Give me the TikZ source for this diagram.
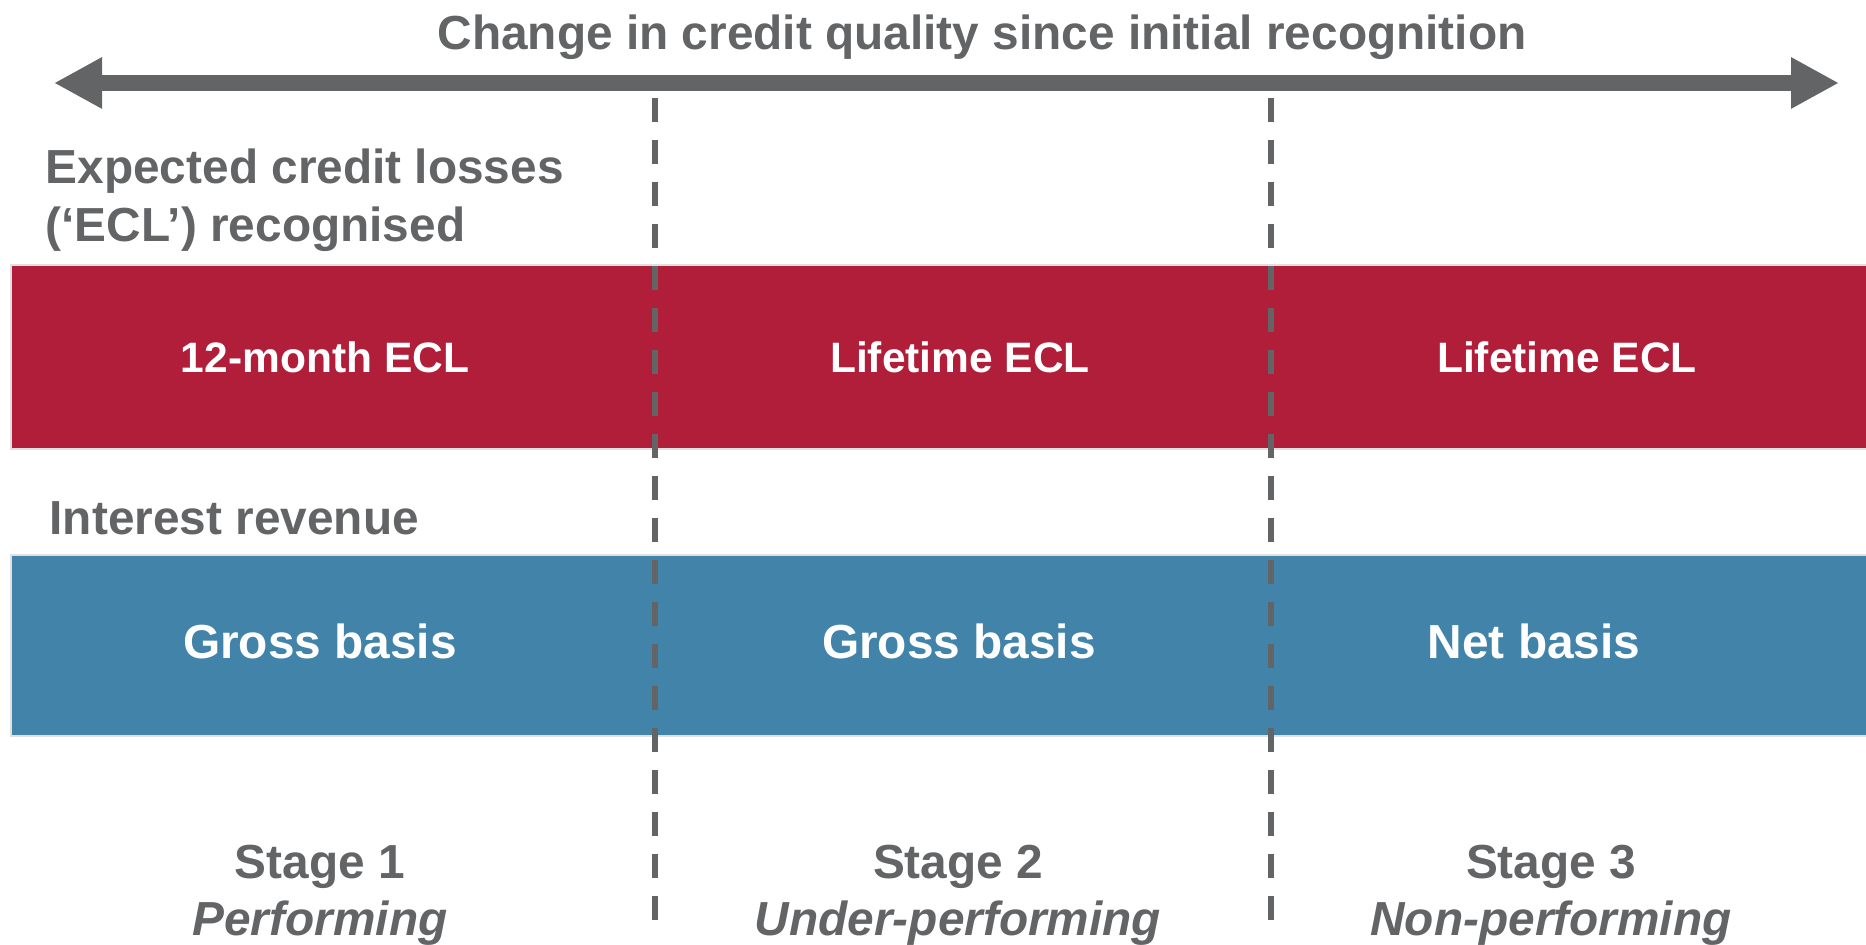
\documentclass[tikz,border=0pt]{standalone}
\usepackage{fontspec}
\setmainfont{Liberation Sans}
\usetikzlibrary{arrows.meta}
\definecolor{eclred}{RGB}{176,30,58}
\definecolor{revblue}{RGB}{66,132,169}
\definecolor{darkgrey}{RGB}{99,100,102}
\begin{document}
\begin{tikzpicture}[band/.style={fill=#1,draw=black!12,line width=0.4pt},grey text/.style={text=darkgrey,font=\fontsize{13.6}{16.5}\selectfont\bfseries,inner sep=0pt},white text/.style={text=white,font=\fontsize{13.6}{16.5}\selectfont\bfseries,inner sep=0pt,anchor=base},stage line/.style={darkgrey,line width=1.5pt,dash pattern=on 0.24cm off 0.18cm}]
\useasboundingbox (0,0) rectangle (18.66,9.45);
\draw [band=eclred] (0.11,4.96) rectangle (18.8,6.80);
\draw [band=revblue] (0.11,2.09) rectangle (18.8,3.90);
\coordinate (worse) at (0.54,8.62);
\coordinate (better) at (18.39,8.62);
\draw [darkgrey, line width=4.5pt, {Triangle[length=0.48cm,width=0.48cm]}-{Triangle[length=0.48cm,width=0.48cm]}] (worse) -- (better);
\begin{scope}[every node/.style={grey text}]
\node [anchor=base] (title) at (9.82,8.95) {Change in credit quality since initial recognition};
\node [anchor=base west, align=left] (ecl) at (0.45,7.03) {Expected credit losses\\(‘ECL’) recognised};
\node [anchor=base west] (rev) at (0.49,4.10) {Interest revenue};
\node [anchor=base, align=center] (s1) at (3.20,0.09) {Stage 1\\\textit{Performing}};
\node [anchor=base, align=center] (s2) at (9.58,0.09) {Stage 2\\\textit{Under-performing}};
\node [anchor=base, align=center] (s3) at (15.51,0.09) {Stage 3\\\textit{Non-performing}};
\end{scope}
\begin{scope}[every node/.style={white text}]
\node [font=\fontsize{12.1}{14}\selectfont\bfseries] (e1) at (3.25,5.72) {12-month ECL};
\node [font=\fontsize{12.1}{14}\selectfont\bfseries] (e2) at (9.60,5.72) {Lifetime ECL};
\node [font=\fontsize{12.1}{14}\selectfont\bfseries] (e3) at (15.67,5.72) {Lifetime ECL};
\node (g1) at (3.20,2.86) {Gross basis};
\node (g2) at (9.59,2.86) {Gross basis};
\node (n3) at (15.34,2.86) {Net basis};
\end{scope}
\coordinate (cut1top) at (6.55,8.47);
\coordinate (cut1bot) at (6.55,0.25);
\coordinate (cut2top) at (12.71,8.47);
\coordinate (cut2bot) at (12.71,0.25);
\draw [stage line] (cut1top) -- (cut1bot);
\draw [stage line] (cut2top) -- (cut2bot);
\end{tikzpicture}
\end{document}
